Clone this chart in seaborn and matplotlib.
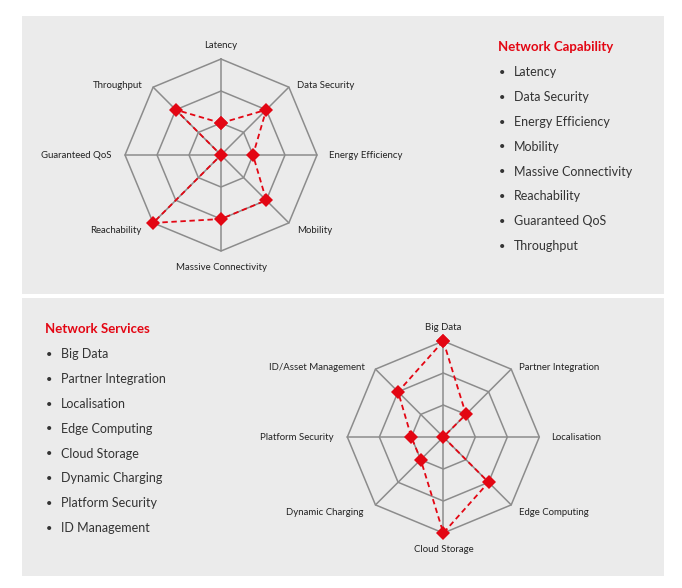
import numpy as np
import matplotlib
matplotlib.use("Agg")
import matplotlib.pyplot as plt
from matplotlib.patches import Rectangle
import seaborn as sns

# data (scale 0-3)
cap_axes = ["Latency", "Data Security", "Energy Efficiency", "Mobility",
            "Massive Connectivity", "Reachability", "Guaranteed QoS", "Throughput"]
cap_values = [1, 2, 1, 2, 2, 3, 0, 2]
cap_list = ["Latency", "Data Security", "Energy Efficiency", "Mobility",
            "Massive Connectivity", "Reachability", "Guaranteed QoS", "Throughput"]

svc_axes = ["Big Data", "Partner Integration", "Localisation", "Edge Computing",
            "Cloud Storage", "Dynamic Charging", "Platform Security", "ID/Asset Management"]
svc_values = [3, 1, 0, 2, 3, 1, 1, 2]
svc_list = ["Big Data", "Partner Integration", "Localisation", "Edge Computing",
            "Cloud Storage", "Dynamic Charging", "Platform Security", "ID Management"]

RED = "#e30613"
GRID = "#8c8c8c"
TXT = "#333333"
BG = "#ebebeb"

sns.set_style("white")
plt.rcParams["font.family"] = ["Lato", "DejaVu Sans"]

fig = plt.figure(figsize=(6.82, 5.88), dpi=100)

# grey panels
fig.patches.append(Rectangle((0.0323, 0.5), 0.9413, 0.4728, transform=fig.transFigure,
                             facecolor=BG, edgecolor="none", zorder=-10))
fig.patches.append(Rectangle((0.0323, 0.0204), 0.9413, 0.4728, transform=fig.transFigure,
                             facecolor=BG, edgecolor="none", zorder=-10))

# label offsets in pixels for the 8 directions (N, NE, E, SE, S, SW, W, NW)
offsets = [(0, 14), (8, 2), (12, 0), (8, -8), (0, -16), (-12, -8), (-14, 0), (-11, 2)]
haligns = ["center", "left", "left", "left", "center", "right", "right", "right"]


def radar(rect, labels, values):
    ax = fig.add_axes(rect, projection="polar")
    n = len(labels)
    angles = np.linspace(0, 2 * np.pi, n, endpoint=False)
    ang_c = np.append(angles, 2 * np.pi)
    ax.set_theta_offset(np.pi / 2)
    ax.set_theta_direction(-1)
    ax.set_facecolor("none")
    ax.grid(False)
    ax.spines["polar"].set_visible(False)
    ax.set_xticks([])
    ax.set_yticks([])
    # octagon rings and spokes
    for r in [1, 2, 3]:
        ax.plot(ang_c, [r] * (n + 1), color=GRID, lw=1.1, zorder=1, clip_on=False)
    for a in angles:
        ax.plot([a, a], [0, 3], color=GRID, lw=1.1, zorder=1, clip_on=False)
    vals = list(values) + [values[0]]
    sns.lineplot(x=ang_c, y=vals, sort=False, ax=ax, color=RED, lw=1.3,
                 linestyle=(0, (3, 2)), marker="D", markersize=7,
                 markeredgewidth=0, zorder=3, clip_on=False)
    ax.set_ylim(0, 3)
    ax.set_xlabel("")
    ax.set_ylabel("")
    for a, lab, off, ha in zip(angles, labels, offsets, haligns):
        ax.annotate(lab, (a, 3), xytext=off, textcoords="offset pixels",
                    ha=ha, va="center", fontsize=6.9, color="#222222")
    return ax


radar([0.1833, 0.5731, 0.2815, 0.3265], cap_axes, cap_values)
radar([0.5093, 0.0935, 0.2815, 0.3265], svc_axes, svc_values)


def bullet_list(x, y_title, title, items):
    fig.text(x / 682, 1 - y_title / 588, title, color=RED, fontsize=9.5,
             fontweight="bold", va="center", ha="left")
    for i, it in enumerate(items):
        y = 1 - (y_title + 25.5 + i * 24.8) / 588
        fig.text((x + 4) / 682, y, "•", color=TXT, fontsize=8, va="center", ha="center")
        fig.text((x + 16) / 682, y, it, color=TXT, fontsize=9, va="center", ha="left")


bullet_list(498, 47, "Network Capability", cap_list)
bullet_list(45, 329, "Network Services", svc_list)

fig.savefig("out.png", dpi=100, facecolor="white")
